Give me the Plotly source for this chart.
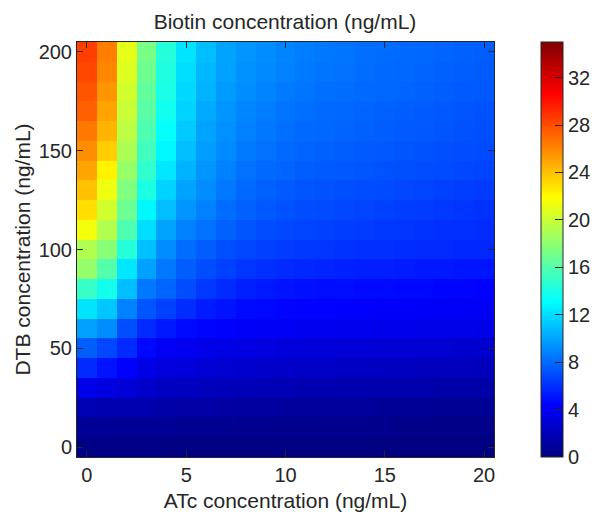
import plotly.graph_objects as go

# ATc concentration (ng/mL) - columns
atc = list(range(0, 21))
# DTB concentration (ng/mL) - rows
dtb = list(range(0, 201, 10))

# Biotin concentration (ng/mL), one list per DTB row (y = 0 ... 200), 21 ATc columns each
row_000 = [0.2, 0.2, 0.2, 0.2, 0.1, 0.1, 0.1, 0.1, 0.1, 0.1, 0.1, 0.1, 0.1, 0.1, 0.1, 0.0, 0.0, 0.0, 0.0, 0.0, 0.0]
row_010 = [0.8, 0.8, 0.7, 0.7, 0.7, 0.6, 0.6, 0.6, 0.5, 0.5, 0.5, 0.5, 0.4, 0.4, 0.4, 0.4, 0.3, 0.3, 0.3, 0.3, 0.3]
row_020 = [1.8, 1.7, 1.6, 1.5, 1.4, 1.3, 1.3, 1.2, 1.1, 1.1, 1.0, 1.0, 0.9, 0.9, 0.9, 0.8, 0.8, 0.8, 0.7, 0.7, 0.7]
row_030 = [3.6, 3.3, 3.0, 2.6, 2.3, 2.2, 2.1, 2.0, 1.9, 1.8, 1.8, 1.7, 1.7, 1.6, 1.6, 1.5, 1.5, 1.5, 1.4, 1.4, 1.4]
row_040 = [5.8, 5.0, 4.3, 3.5, 3.2, 3.1, 2.9, 2.8, 2.7, 2.6, 2.5, 2.4, 2.4, 2.3, 2.3, 2.2, 2.2, 2.1, 2.1, 2.1, 2.0]
row_050 = [7.6, 6.8, 5.8, 4.6, 4.0, 3.8, 3.6, 3.5, 3.4, 3.3, 3.2, 3.1, 3.1, 3.0, 3.0, 2.9, 2.9, 2.8, 2.8, 2.7, 2.7]
row_060 = [9.9, 9.2, 7.1, 5.8, 5.2, 4.7, 4.5, 4.3, 4.2, 4.1, 4.0, 3.9, 3.9, 3.8, 3.8, 3.7, 3.7, 3.6, 3.6, 3.6, 3.5]
row_070 = [12.2, 11.2, 8.8, 7.3, 6.6, 5.9, 5.3, 5.0, 4.7, 4.6, 4.5, 4.4, 4.4, 4.3, 4.3, 4.2, 4.2, 4.2, 4.1, 4.1, 4.0]
row_080 = [15.0, 13.8, 10.9, 8.5, 7.8, 7.0, 6.3, 5.8, 5.4, 5.2, 5.0, 4.9, 4.8, 4.8, 4.7, 4.7, 4.6, 4.6, 4.5, 4.5, 4.4]
row_090 = [18.2, 16.0, 12.3, 9.9, 8.5, 7.6, 7.0, 6.6, 6.2, 6.0, 5.8, 5.7, 5.6, 5.5, 5.4, 5.4, 5.3, 5.2, 5.2, 5.1, 5.1]
row_100 = [19.2, 17.8, 14.4, 11.0, 9.2, 8.1, 7.6, 7.1, 6.8, 6.6, 6.4, 6.3, 6.2, 6.1, 6.0, 6.0, 5.9, 5.8, 5.8, 5.7, 5.7]
row_110 = [21.5, 19.2, 15.8, 12.0, 10.0, 8.8, 8.3, 7.7, 7.3, 7.0, 6.8, 6.7, 6.6, 6.5, 6.4, 6.3, 6.2, 6.1, 6.0, 6.0, 5.9]
row_120 = [23.0, 20.3, 16.8, 12.9, 10.9, 9.5, 8.8, 8.1, 7.7, 7.4, 7.2, 7.0, 6.9, 6.8, 6.7, 6.6, 6.5, 6.4, 6.3, 6.2, 6.1]
row_130 = [24.0, 21.3, 17.5, 14.1, 11.6, 10.0, 9.2, 8.5, 8.0, 7.7, 7.5, 7.3, 7.2, 7.1, 7.0, 6.9, 6.8, 6.7, 6.6, 6.5, 6.4]
row_140 = [25.0, 22.3, 18.3, 14.8, 12.3, 10.5, 9.5, 8.8, 8.3, 8.0, 7.8, 7.6, 7.5, 7.4, 7.3, 7.2, 7.1, 7.0, 6.9, 6.8, 6.7]
row_150 = [25.8, 23.6, 19.0, 15.4, 12.9, 10.9, 9.8, 9.1, 8.6, 8.3, 8.0, 7.8, 7.7, 7.6, 7.5, 7.4, 7.3, 7.2, 7.1, 7.0, 6.9]
row_160 = [26.5, 24.4, 19.6, 15.8, 13.3, 11.3, 10.0, 9.3, 8.8, 8.5, 8.2, 8.0, 7.9, 7.8, 7.7, 7.6, 7.5, 7.4, 7.3, 7.2, 7.1]
row_170 = [27.3, 25.0, 20.0, 16.2, 13.7, 11.6, 10.2, 9.5, 9.0, 8.7, 8.4, 8.2, 8.0, 7.9, 7.8, 7.7, 7.6, 7.5, 7.4, 7.3, 7.2]
row_180 = [27.7, 25.5, 20.3, 16.5, 14.0, 11.8, 10.5, 9.7, 9.2, 8.9, 8.6, 8.4, 8.2, 8.1, 8.0, 7.9, 7.8, 7.7, 7.6, 7.5, 7.4]
row_190 = [28.2, 26.0, 20.7, 16.9, 14.2, 12.0, 10.7, 9.9, 9.4, 9.1, 8.8, 8.6, 8.4, 8.3, 8.1, 8.0, 7.9, 7.8, 7.7, 7.6, 7.5]
row_200 = [28.5, 26.3, 21.0, 17.2, 14.4, 12.2, 10.9, 10.0, 9.5, 9.2, 8.9, 8.7, 8.5, 8.4, 8.2, 8.1, 8.0, 7.9, 7.8, 7.7, 7.6]

biotin = [row_000, row_010, row_020, row_030, row_040, row_050, row_060, row_070,
          row_080, row_090, row_100, row_110, row_120, row_130, row_140, row_150,
          row_160, row_170, row_180, row_190, row_200]

x_ticks = [0, 5, 10, 15, 20]
y_ticks = [0, 50, 100, 150, 200]
cbar_ticks = [0, 4, 8, 12, 16, 20, 24, 28, 32]

jet = [
    [0.0, "rgb(0,0,128)"],
    [0.125, "rgb(0,0,255)"],
    [0.375, "rgb(0,255,255)"],
    [0.625, "rgb(255,255,0)"],
    [0.875, "rgb(255,0,0)"],
    [1.0, "rgb(128,0,0)"],
]

ink = "#262626"
FONT = "Liberation Sans, Arial, Helvetica, sans-serif"

W, H = 598, 515
L, R, T, B = 77, 104, 42, 58
plot_w = W - L - R

fig = go.Figure(
    go.Heatmap(
        x=atc,
        y=dtb,
        z=biotin,
        zmin=0,
        zmax=35,
        colorscale=jet,
        colorbar=dict(
            x=(541 - L) / plot_w,
            xanchor="left",
            xpad=0,
            y=0.5,
            yanchor="middle",
            len=1,
            lenmode="fraction",
            ypad=0,
            thickness=22,
            thicknessmode="pixels",
            outlinecolor=ink,
            outlinewidth=1,
            ticks="inside",
            ticklen=8,
            tickcolor=ink,
            tickvals=cbar_ticks,
            tickfont=dict(family=FONT, size=20, color=ink),
        ),
        hoverongaps=False,
    )
)

axis_common = dict(
    showline=True,
    linecolor=ink,
    linewidth=1,
    mirror="ticks",
    ticks="inside",
    ticklen=6,
    tickcolor=ink,
    tickwidth=1,
    showgrid=False,
    zeroline=False,
    tickfont=dict(family=FONT, size=20, color=ink),
)

fig.update_xaxes(
    range=[-0.5, 20.5],
    tickvals=x_ticks,
    title=dict(text="ATc concentration (ng/mL)", font=dict(family=FONT, size=21, color=ink), standoff=8),
    **axis_common,
)
fig.update_yaxes(
    range=[-5, 205],
    tickvals=y_ticks,
    title=dict(text="DTB concentration (ng/mL)", font=dict(family=FONT, size=21, color=ink), standoff=2),
    **axis_common,
)

fig.update_layout(
    width=W,
    height=H,
    margin=dict(l=L, r=R, t=T, b=B, autoexpand=False),
    paper_bgcolor="white",
    plot_bgcolor="white",
    font=dict(family=FONT, color=ink),
    title=dict(
        text="Biotin concentration (ng/mL)",
        font=dict(family=FONT, size=21, color=ink),
        x=285 / W,
        xanchor="center",
        y=1 - 22 / H,
        yanchor="middle",
        yref="container",
        xref="container",
    ),
)

fig.write_html(
    "out.html",
    config={"displayModeBar": False},
    post_script="document.body.style.margin='0';",
)
